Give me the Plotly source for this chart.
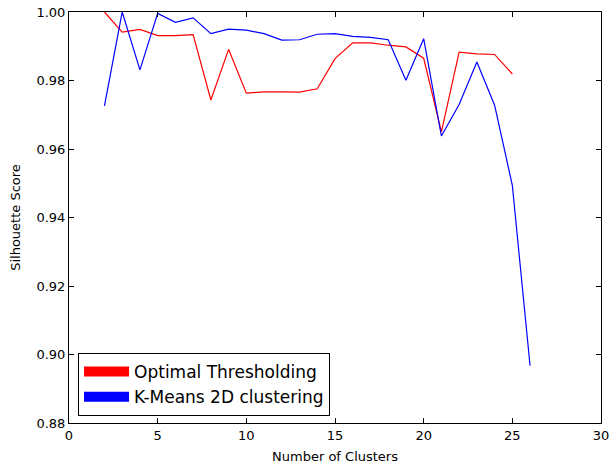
import plotly.graph_objects as go

clusters_ot = list(range(2, 26))
score_ot = [1.0000, 0.9941, 0.9949, 0.9931, 0.9931, 0.9934, 0.9743, 0.9891, 0.9763,
            0.9767, 0.9767, 0.9766, 0.9776, 0.9864, 0.9910, 0.9910, 0.9903, 0.9898,
            0.9865, 0.9650, 0.9883, 0.9878, 0.9876, 0.9819]

clusters_km = list(range(2, 27))
score_km = [0.9726, 1.0000, 0.9831, 0.9996, 0.9970, 0.9983, 0.9937, 0.9950, 0.9947,
            0.9937, 0.9918, 0.9919, 0.9935, 0.9937, 0.9929, 0.9926, 0.9919, 0.9801,
            0.9922, 0.9638, 0.9730, 0.9854, 0.9728, 0.9494, 0.8967]

names = ["Optimal Thresholding", "K-Means 2D clustering"]
colors = ["#ff0000", "#0000ff"]

fig = go.Figure()
for xs, ys, nm, c in [(clusters_ot, score_ot, names[0], colors[0]),
                      (clusters_km, score_km, names[1], colors[1])]:
    fig.add_trace(go.Scatter(x=xs, y=ys, mode="lines", line=dict(color=c, width=1.2),
                             showlegend=False))
    fig.add_trace(go.Scatter(x=[None], y=[None], mode="lines",
                             line=dict(color=c, width=13), name=nm))

axis_common = dict(showline=True, linecolor="black", linewidth=1, mirror="allticks",
                   ticks="inside", ticklen=5, tickcolor="black", showgrid=False,
                   zeroline=False, automargin=False,
                   tickfont=dict(family="DejaVu Sans", size=13, color="black"))

fig.update_layout(
    width=611, height=467,
    margin=dict(l=69, r=10, t=12, b=44),
    paper_bgcolor="white", plot_bgcolor="white",
    font=dict(family="DejaVu Sans", color="black"),
    xaxis=dict(range=[0, 30], tickvals=[0, 5, 10, 15, 20, 25, 30],
               title=dict(text="Number of Clusters", font=dict(size=13), standoff=10),
               **axis_common),
    yaxis=dict(range=[0.88, 1.00], tickvals=[0.88, 0.90, 0.92, 0.94, 0.96, 0.98, 1.00],
               tickformat=".2f",
               title=dict(text="Silhouette Score", font=dict(size=13), standoff=12),
               **axis_common),
    legend=dict(x=0.017, y=0.017, xanchor="left", yanchor="bottom",
                bordercolor="black", borderwidth=1, bgcolor="white",
                font=dict(size=17, family="DejaVu Sans"), itemwidth=45,
                tracegroupgap=0),
)

fig.write_html("out.html")
